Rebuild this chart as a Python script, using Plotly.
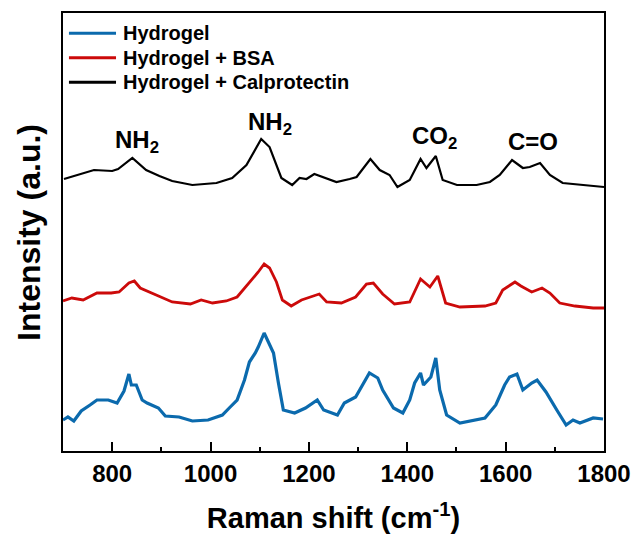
import plotly.graph_objects as go

# Raman shift (cm^-1) and intensity (a.u., offset-stacked as in the figure)
x_cal = [702, 763, 800, 812, 841, 869, 896, 922, 963, 1012, 1044, 1073, 1103, 1120, 1144, 1166, 1181, 1195, 1211,
         1228, 1256, 1283, 1297, 1325, 1344, 1364, 1380, 1405, 1427, 1439, 1458, 1472, 1501, 1541, 1568, 1588,
         1613, 1635, 1649, 1670, 1690, 1716, 1757, 1800]
y_cal = [272, 281, 280, 282, 293, 281, 275, 270, 266, 268, 273, 286, 312, 304, 273, 266, 273, 272, 277,
         274, 269, 272, 274, 292, 281, 276, 264, 271, 292, 283, 295, 271, 266, 266, 269, 276,
         291, 283, 284, 288, 276, 268, 266, 264]

x_bsa = [700, 718, 741, 769, 798, 814, 834, 845, 857, 879, 902, 922, 959, 981, 1004, 1032, 1054, 1079, 1097,
         1109, 1120, 1134, 1146, 1164, 1185, 1221, 1236, 1266, 1295, 1317, 1331, 1350, 1374, 1405, 1427, 1446,
         1462, 1478, 1507, 1558, 1580, 1594, 1619, 1631, 1653, 1674, 1690, 1710, 1741, 1778, 1800]
y_bsa = [150, 153, 151, 158, 158, 159, 168, 170, 163, 158, 153, 149, 147, 151, 148, 150, 154, 168, 179,
         187, 183, 169, 151, 145, 151, 157, 149, 148, 154, 167, 168, 157, 147, 149, 172, 164,
         175, 148, 144, 145, 148, 161, 169, 165, 159, 163, 158, 148, 145, 143, 143]

x_gel = [700, 710, 722, 737, 755, 769, 792, 810, 824, 834, 839, 849, 861, 871, 894, 908, 936, 963, 995, 1024,
         1040, 1054, 1069, 1079, 1091, 1097, 1109, 1120, 1128, 1138, 1148, 1171, 1193, 1217, 1230, 1258, 1272,
         1295, 1313, 1323, 1340, 1350, 1372, 1391, 1405, 1415, 1427, 1433, 1448, 1458, 1466, 1480, 1507, 1535,
         1558, 1580, 1598, 1608, 1623, 1635, 1653, 1664, 1682, 1704, 1723, 1737, 1751, 1778, 1798]
y_gel = [31, 34, 30, 40, 46, 51, 51, 48, 60, 77, 66, 66, 51, 48, 43, 35, 34, 30, 31, 36,
         44, 51, 71, 89, 98, 104, 118, 106, 98, 68, 41, 38, 43, 51, 41, 36, 48,
         54, 69, 78, 73, 61, 43, 38, 51, 68, 78, 66, 74, 93, 61, 36, 28, 31,
         33, 46, 66, 74, 77, 61, 68, 71, 59, 41, 26, 31, 28, 33, 32]

series_names = ["Hydrogel", "Hydrogel + BSA", "Hydrogel + Calprotectin"]
series_colors = ["#0b6aad", "#cc0a0a", "#000000"]
series_widths = [3.2, 2.8, 2.2]

ann_text = ["NH<sub>2</sub>", "NH<sub>2</sub>", "CO<sub>2</sub>", "C=O"]
ann_x = [851, 1120, 1456, 1656]
ann_y = [310, 328, 314, 310]

FONT = "Liberation Sans, Arial, sans-serif"

fig = go.Figure()
for xs, ys, name, col, w in zip([x_gel, x_bsa, x_cal], [y_gel, y_bsa, y_cal],
                                series_names, series_colors, series_widths):
    fig.add_trace(go.Scatter(x=xs, y=ys, mode="lines", name=name,
                             line=dict(color=col, width=w), showlegend=False))

for t, ax, ay in zip(ann_text, ann_x, ann_y):
    fig.add_annotation(x=ax, y=ay, text=t, showarrow=False, xref="x", yref="y",
                       font=dict(family=FONT, size=24, color="black", weight="bold"))

# legend drawn in paper coordinates (top-left inside the frame)
leg_y = [0.954, 0.898, 0.842]
for name, col, ly in zip(series_names, series_colors, leg_y):
    fig.add_shape(type="line", xref="paper", yref="paper", x0=0.011, x1=0.098, y0=ly, y1=ly,
                  line=dict(color=col, width=3))
    fig.add_annotation(x=0.107, y=ly, xref="paper", yref="paper", text=name, showarrow=False,
                       xanchor="left", yanchor="middle",
                       font=dict(family=FONT, size=20, color="black", weight="bold"))

# y-axis title as rotated text
fig.add_annotation(x=-0.063, y=0.50, xref="paper", yref="paper", text="Intensity (a.u.)",
                   textangle=-90, showarrow=False, xanchor="center", yanchor="middle",
                   font=dict(family=FONT, size=32, color="black", weight="bold"))

fig.update_layout(
    width=636, height=537,
    margin=dict(l=63, r=32, t=13, b=86),
    paper_bgcolor="white", plot_bgcolor="white",
    font=dict(family=FONT, color="black"),
    showlegend=False,
    xaxis=dict(range=[700, 1800], dtick=200, tick0=800, showgrid=False, zeroline=False, automargin=False,
               showline=True, linecolor="black", linewidth=2, mirror=True,
               ticks="inside", ticklen=9, tickwidth=2, tickcolor="black",
               minor=dict(ticks="inside", ticklen=4, tickwidth=2, dtick=100, tick0=700, tickcolor="black"),
               tickfont=dict(family=FONT, size=24, color="black", weight="bold"),
               title=dict(text="Raman shift (cm<sup>-1</sup>)", standoff=22,
                          font=dict(family=FONT, size=29, color="black", weight="bold"))),
    yaxis=dict(range=[0, 438], showgrid=False, zeroline=False, showticklabels=False, ticks="", automargin=False,
               showline=True, linecolor="black", linewidth=2, mirror=True),
)

fig.write_html("out.html")
